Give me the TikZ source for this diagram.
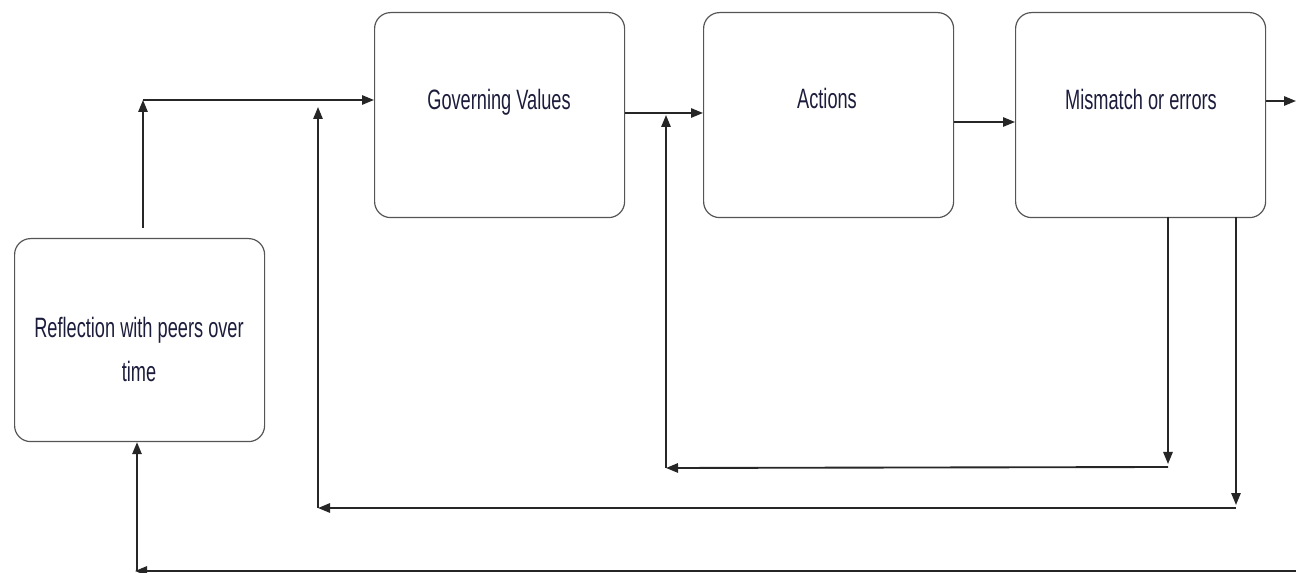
\documentclass[tikz,border=0pt]{standalone}
\usepackage{fontspec}
\setmainfont{Liberation Sans}[FakeStretch=0.65]
\usetikzlibrary{arrows.meta,calc}
\definecolor{ink}{RGB}{28,28,60}
\definecolor{boxline}{RGB}{85,85,85}
\begin{document}
\begin{tikzpicture}[x=0.75pt,y=-0.75pt,
  stagebox/.style={draw=boxline,line width=0.9pt,rounded corners=12pt,
    minimum width=187.5pt,minimum height=153.75pt,inner sep=0pt,anchor=north west},
  reflbox/.style={stagebox,minimum height=152.25pt},
  boxtext/.style={text=ink,font=\fontsize{21}{33}\selectfont,align=center,inner sep=0pt},
  flow/.style={draw=black!85,line width=1.4pt},
  flowarrow/.style={flow,-{Triangle[length=9pt,width=7pt]}}]
\useasboundingbox (0,0) rectangle (1296,573);

% stages
\node[stagebox] (gv)  at (374,12)  {};
\node[stagebox] (act) at (703,12)  {};
\node[stagebox] (mm)  at (1015,12) {};
\node[reflbox]  (refl) at (14,238) {};

% stage captions
\node[boxtext,anchor=base] (gvtext)  at (499,110)  {Governing Values};
\node[boxtext,anchor=base] (acttext) at (827,109)  {Actions};
\node[boxtext,anchor=base] (mmtext)  at (1141,110) {Mismatch or errors};
\node[boxtext,anchor=base] (refltext) at (139,382) {Reflection with peers over\\time};

% free ends of the connectors
\coordinate (rup)   at (143,228);
\coordinate (rcorn) at (143,100);
\coordinate (out)   at (1296,101);
\coordinate (aTop)  at (1168,217);
\coordinate (aTip)  at (1168,464);
\coordinate (aR)    at (1168,467);
\coordinate (aL)    at (666,468);
\coordinate (aUp)   at (666,115);
\coordinate (bTop)  at (1236,217);
\coordinate (bTip)  at (1236,505);
\coordinate (bR)    at (1236,508);
\coordinate (bL)    at (318,508);
\coordinate (bUp)   at (318,107);
\coordinate (cR)    at (1296,571);
\coordinate (cL)    at (135,571);
\coordinate (cUp)   at (137,571);

% forward path
\draw[flowarrow] (rup) -- (rcorn);
\draw[flowarrow] (rcorn) -- (gv.west |- rcorn);
\draw[flowarrow] (gv.east |- 0,113) -- (act.west |- 0,113);
\draw[flowarrow] (act.east |- 0,122) -- (mm.west |- 0,122);
\draw[flowarrow] (mm.east |- out) -- (out);

% single loop
\draw[flowarrow] (aTop) -- (aTip);
\draw[flowarrow] (aR) -- (aL);
\draw[flowarrow] (aL) -- (aUp);

% double loop
\draw[flowarrow] (bTop) -- (bTip);
\draw[flowarrow] (bR) -- (bL);
\draw[flowarrow] (bL) -- (bUp);

% triple loop
\draw[flowarrow] (cR) -- (cL);
\draw[flowarrow] (cUp) -- (refl.south -| cUp);
\end{tikzpicture}
\end{document}
